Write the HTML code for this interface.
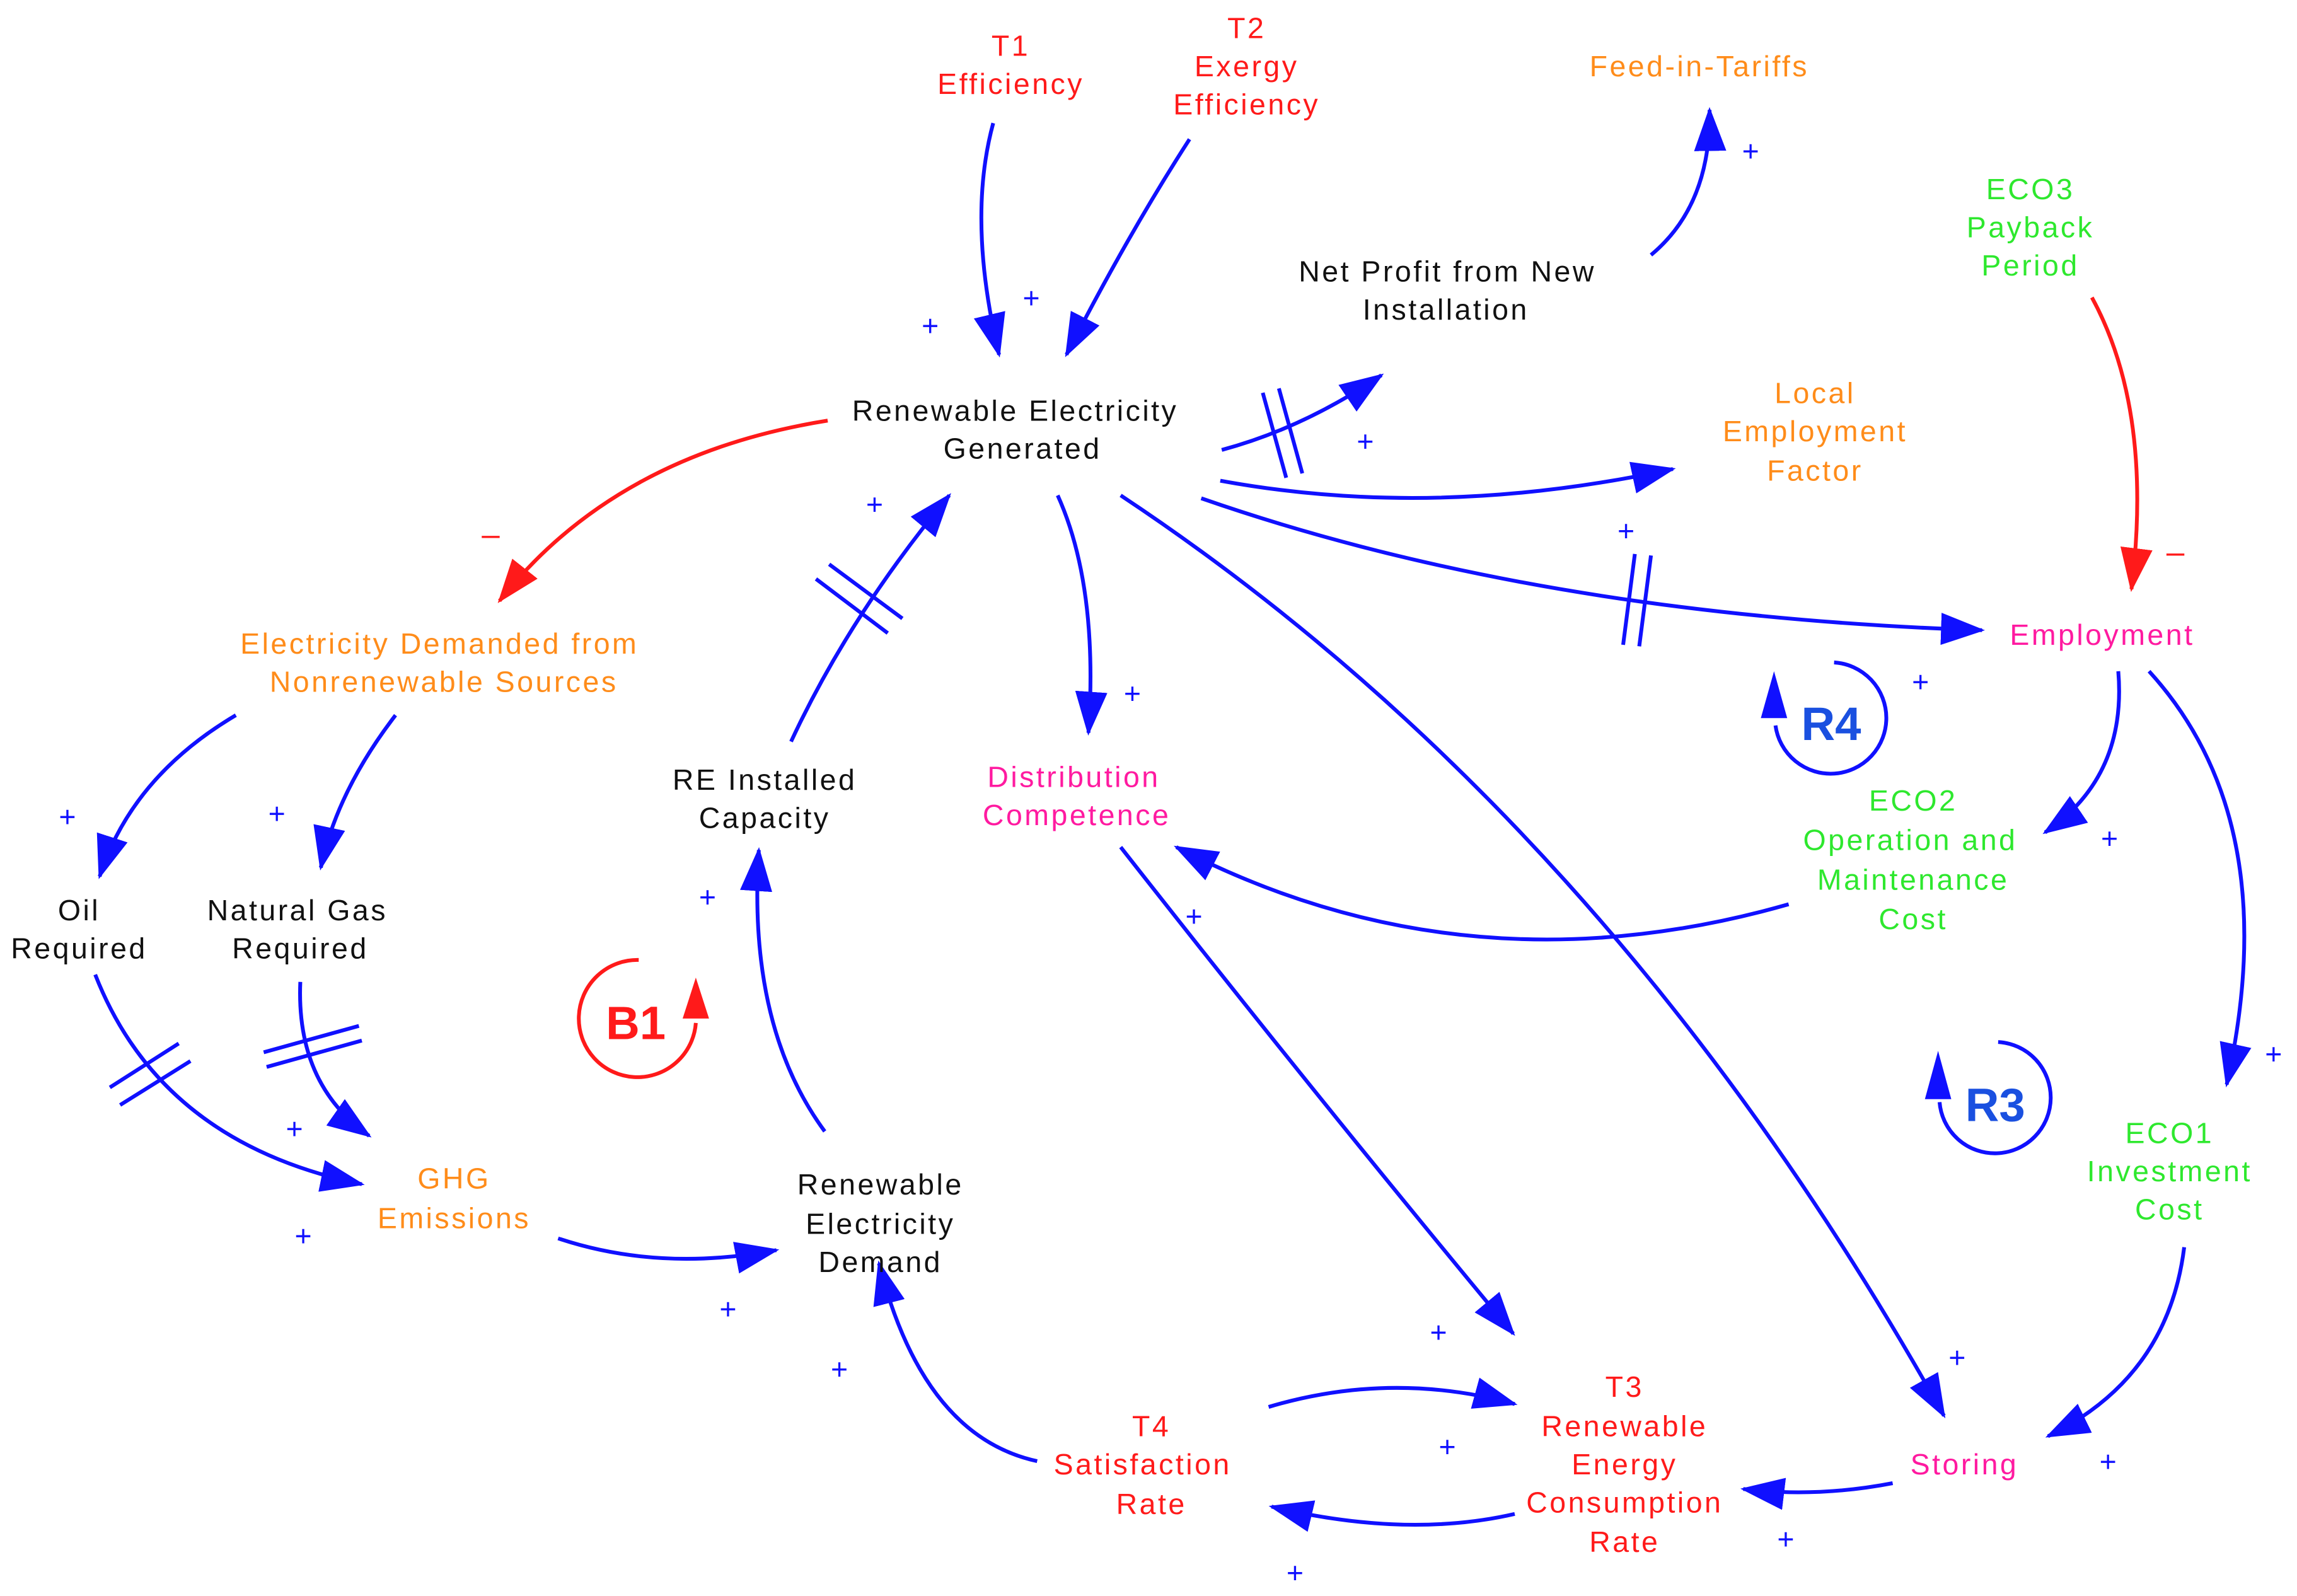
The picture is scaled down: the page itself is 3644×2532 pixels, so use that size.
<!DOCTYPE html>
<html><head><meta charset="utf-8"><style>
html,body{margin:0;padding:0;background:#fff}
svg{display:block}
text{font-family:"Liberation Sans",sans-serif;font-size:20px;text-anchor:middle;letter-spacing:1.5px}
.k{fill:#111}.r{fill:#ff1a1a}.o{fill:#ff8c1a}.g{fill:#2ee82e}.m{fill:#ff1aa0}
.p{fill:#1010ff;font-size:20px;letter-spacing:0}.n{fill:#ff1a1a;font-size:22px;letter-spacing:0}
.a{fill:none;stroke:#1010ff;stroke-width:2.6}
.ar{fill:none;stroke:#ff1a1a;stroke-width:2.6}
.h{stroke:#1010ff;stroke-width:2.6}
</style></head><body>
<svg width="3644" height="2532" viewBox="0 0 1568 1089" preserveAspectRatio="none" xmlns="http://www.w3.org/2000/svg">
<defs>
<marker id="b" viewBox="0 0 30 22" refX="28" refY="11" markerWidth="30" markerHeight="22" markerUnits="userSpaceOnUse" orient="auto"><path d="M0,0 L30,11 L0,22 z" fill="#1010ff"/></marker>
<marker id="rd" viewBox="0 0 30 22" refX="28" refY="11" markerWidth="30" markerHeight="22" markerUnits="userSpaceOnUse" orient="auto"><path d="M0,0 L30,11 L0,22 z" fill="#ff1a1a"/></marker>
</defs>
<path class="a" marker-end="url(#b)" d="M678,84 Q660,150 682,242"/>
<path class="a" marker-end="url(#b)" d="M812,95 Q770,160 728,242"/>
<path class="a" marker-end="url(#b)" d="M834,307 Q890,292 943,256"/>
<path class="a" marker-end="url(#b)" d="M1127,174 Q1168,140 1167,75"/>
<path class="a" marker-end="url(#b)" d="M833,328 Q980,355 1142,320"/>
<path class="a" marker-end="url(#b)" d="M820,340 Q1050,420 1353,430"/>
<path class="ar" marker-end="url(#rd)" d="M1428,203 Q1470,280 1455,402"/>
<path class="ar" marker-end="url(#rd)" d="M565,287 Q420,310 341,410"/>
<path class="a" marker-end="url(#b)" d="M722,338 Q750,400 743,500"/>
<path class="a" marker-end="url(#b)" d="M765,338 Q1100,560 1327,966"/>
<path class="a" marker-end="url(#b)" d="M540,506 Q580,420 648,338"/>
<path class="a" marker-end="url(#b)" d="M1446,458 Q1452,530 1396,568"/>
<path class="a" marker-end="url(#b)" d="M1467,458 Q1560,560 1520,740"/>
<path class="a" marker-end="url(#b)" d="M1221,617 Q1000,680 803,578"/>
<path class="a" marker-end="url(#b)" d="M765,578 Q900,750 1033,910"/>
<path class="a" marker-end="url(#b)" d="M161,488 Q90,530 68,598"/>
<path class="a" marker-end="url(#b)" d="M270,488 Q230,540 219,592"/>
<path class="a" marker-end="url(#b)" d="M65,665 Q110,780 247,808"/>
<path class="a" marker-end="url(#b)" d="M205,670 Q202,740 252,775"/>
<path class="a" marker-end="url(#b)" d="M381,845 Q450,868 530,853"/>
<path class="a" marker-end="url(#b)" d="M563,772 Q510,700 518,580"/>
<path class="a" marker-end="url(#b)" d="M708,997 Q630,980 600,862"/>
<path class="a" marker-end="url(#b)" d="M866,960 Q950,935 1034,958"/>
<path class="a" marker-end="url(#b)" d="M1034,1033 Q960,1050 868,1028"/>
<path class="a" marker-end="url(#b)" d="M1292,1012 Q1240,1022 1190,1016"/>
<path class="a" marker-end="url(#b)" d="M1491,851 Q1480,940 1398,980"/>
<path class="h" d="M862,268 L878,326 M873,265 L889,323"/>
<path class="h" d="M1108,440 L1116,378 M1119,441 L1127,379"/>
<path class="h" d="M557,395 L606,432 M566,385 L616,422"/>
<path class="h" d="M75,742 L122,712 M82,754 L130,724"/>
<path class="h" d="M180,718 L245,700 M182,728 L247,710"/>
<path class="ar" stroke-width="2" d="M436,655 A40,40 0 1,0 475,698"/>
<path d="M466,695 L475,667 L484,695 z" fill="#ff1a1a"/>
<text x="434" y="709" style="font-size:32px;font-weight:bold;fill:#ff1a1a;letter-spacing:0">B1</text>
<path class="a" stroke-width="2" d="M1252,452 A38,38 0 1,1 1212,495"/>
<path d="M1202,490 L1211,458 L1220,490 z" fill="#1010ff"/>
<text x="1250" y="505" style="font-size:32px;font-weight:bold;fill:#1a50e0;letter-spacing:0">R4</text>
<path class="a" stroke-width="2" d="M1364,711 A38,38 0 1,1 1324,752"/>
<path d="M1314,750 L1323,717 L1332,750 z" fill="#1010ff"/>
<text x="1362" y="765" style="font-size:32px;font-weight:bold;fill:#1a50e0;letter-spacing:0">R3</text>
<text class="r" x="690" y="38">T1</text><text class="r" x="690" y="64">Efficiency</text>
<text class="r" x="851" y="26">T2</text><text class="r" x="851" y="52">Exergy</text><text class="r" x="851" y="78">Efficiency</text>
<text class="o" x="1160" y="52">Feed-in-Tariffs</text>
<text class="g" x="1386" y="136">ECO3</text><text class="g" x="1386" y="162">Payback</text><text class="g" x="1386" y="188">Period</text>
<text class="k" x="988" y="192">Net Profit from New</text><text class="k" x="987" y="218">Installation</text>
<text class="k" x="693" y="287">Renewable Electricity</text><text class="k" x="698" y="313">Generated</text>
<text class="o" x="1239" y="275">Local</text><text class="o" x="1239" y="301">Employment</text><text class="o" x="1239" y="328">Factor</text>
<text class="m" x="1435" y="440">Employment</text>
<text class="o" x="300" y="446">Electricity Demanded from</text><text class="o" x="303" y="472">Nonrenewable Sources</text>
<text class="k" x="522" y="539">RE Installed</text><text class="k" x="522" y="565">Capacity</text>
<text class="m" x="733" y="537">Distribution</text><text class="m" x="735" y="563">Competence</text>
<text class="g" x="1306" y="553">ECO2</text><text class="g" x="1304" y="580">Operation and</text><text class="g" x="1306" y="607">Maintenance</text><text class="g" x="1306" y="634">Cost</text>
<text class="k" x="54" y="628">Oil</text><text class="k" x="54" y="654">Required</text>
<text class="k" x="203" y="628">Natural Gas</text><text class="k" x="205" y="654">Required</text>
<text class="o" x="310" y="811">GHG</text><text class="o" x="310" y="838">Emissions</text>
<text class="k" x="601" y="815">Renewable</text><text class="k" x="601" y="842">Electricity</text><text class="k" x="601" y="868">Demand</text>
<text class="g" x="1481" y="780">ECO1</text><text class="g" x="1481" y="806">Investment</text><text class="g" x="1481" y="832">Cost</text>
<text class="r" x="1109" y="953">T3</text><text class="r" x="1109" y="980">Renewable</text><text class="r" x="1109" y="1006">Energy</text><text class="r" x="1109" y="1032">Consumption</text><text class="r" x="1109" y="1059">Rate</text>
<text class="r" x="786" y="980">T4</text><text class="r" x="780" y="1006">Satisfaction</text><text class="r" x="786" y="1033">Rate</text>
<text class="m" x="1341" y="1006">Storing</text>
<text class="p" x="635" y="229">+</text><text class="p" x="704" y="210">+</text><text class="p" x="1195" y="110">+</text>
<text class="p" x="932" y="308">+</text><text class="p" x="1110" y="369">+</text><text class="p" x="597" y="351">+</text>
<text class="p" x="773" y="480">+</text><text class="p" x="1311" y="472">+</text><text class="p" x="1440" y="579">+</text>
<text class="p" x="1552" y="726">+</text><text class="p" x="815" y="632">+</text><text class="p" x="46" y="564">+</text>
<text class="p" x="189" y="562">+</text><text class="p" x="483" y="619">+</text><text class="p" x="201" y="777">+</text>
<text class="p" x="207" y="850">+</text><text class="p" x="497" y="900">+</text><text class="p" x="573" y="941">+</text>
<text class="p" x="982" y="916">+</text><text class="p" x="988" y="994">+</text><text class="p" x="1336" y="933">+</text>
<text class="p" x="1439" y="1004">+</text><text class="p" x="1219" y="1057">+</text><text class="p" x="884" y="1080">+</text>
<text class="n" x="335" y="372">–</text><text class="n" x="1485" y="384">–</text>
</svg>
</body></html>
